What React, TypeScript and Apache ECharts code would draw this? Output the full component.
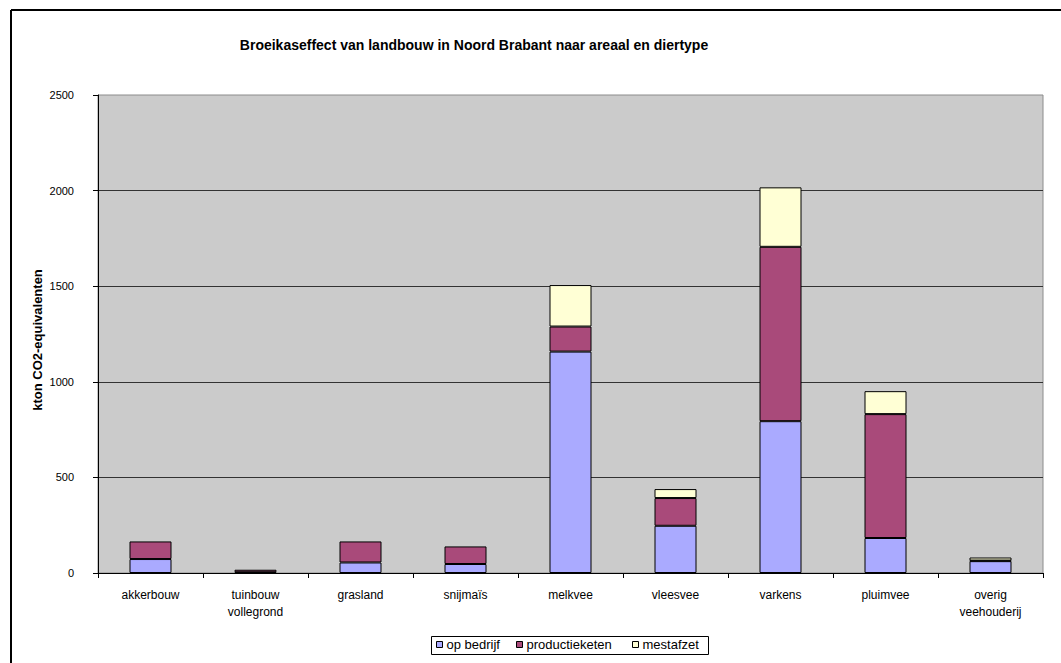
import React, { useEffect, useRef } from "react";
import * as echarts from "echarts";

const categories = [
  "akkerbouw",
  "tuinbouw\nvollegrond",
  "grasland",
  "snijmaïs",
  "melkvee",
  "vleesvee",
  "varkens",
  "pluimvee",
  "overig\nveehouderij",
];
const opBedrijf = [73, 4, 55, 47, 1158, 247, 794, 183, 62];
const productieketen = [92, 13, 110, 92, 131, 145, 912, 648, 3];
const mestafzet = [0, 0, 0, 0, 217, 47, 311, 120, 16];
const seriesNames = ["op bedrijf", "productieketen", "mestafzet"];
const seriesColors = ["#AAAAFF", "#A94A7A", "#FFFFD5"];
const yTicks = { min: 0, max: 2500, interval: 500 };

const FONT = "'Liberation Sans', Arial, sans-serif";

export default function App() {
  const ref = useRef<HTMLDivElement>(null);
  useEffect(() => {
    if (!ref.current) return;
    const chart = echarts.init(ref.current, undefined, { renderer: "svg" });
    const dataSets = [opBedrijf, productieketen, mestafzet];
    const legendX = [436, 516, 632];
    chart.setOption({
      animation: false,
      backgroundColor: "#ffffff",
      textStyle: { fontFamily: FONT },
      grid: {
        left: 98,
        right: 18,
        top: 95,
        bottom: 90,
        show: true,
        backgroundColor: "#CBCBCB",
        borderColor: "#8C8C8C",
        borderWidth: 1,
      },
      legend: seriesNames.map((n, i) => ({
        data: [n],
        left: legendX[i],
        top: 638,
        icon: "rect",
        itemWidth: 6,
        itemHeight: 6,
        itemGap: 0,
        padding: 0,
        textStyle: { fontSize: 13, color: "#000", fontFamily: FONT, padding: [0, 0, 0, -1] },
        itemStyle: { borderColor: "#000", borderWidth: 1 },
      })),
      xAxis: {
        type: "category",
        data: categories,
        axisLine: { lineStyle: { color: "#000", width: 1 } },
        axisTick: { show: true, length: 5, lineStyle: { color: "#000" } },
        axisLabel: {
          color: "#000",
          fontSize: 12,
          fontFamily: FONT,
          margin: 13,
          lineHeight: 17,
          interval: 0,
        },
      },
      yAxis: {
        type: "value",
        min: yTicks.min,
        max: yTicks.max,
        interval: yTicks.interval,
        axisLine: { show: true, lineStyle: { color: "#000", width: 1 } },
        axisTick: { show: true, length: 5, lineStyle: { color: "#000" } },
        axisLabel: {
          color: "#000",
          fontSize: 11,
          fontFamily: FONT,
          margin: 24,
          formatter: (v: number) => String(v),
        },
        splitLine: { show: true, showMaxLine: false, lineStyle: { color: "#333", width: 1 } },
      },
      series: seriesNames.map((n, i) => ({
        name: n,
        type: "bar",
        stack: "total",
        data: dataSets[i].map((v) => (v === 0 ? "-" : v)),
        barWidth: 42,
        itemStyle: { color: seriesColors[i], borderColor: "#000", borderWidth: 1 },
      })),
      graphic: [
        {
          type: "line",
          shape: { x1: 11, y1: 10, x2: 1061, y2: 10 },
          style: { stroke: "#000", lineWidth: 2 },
        },
        {
          type: "line",
          shape: { x1: 11, y1: 10, x2: 11, y2: 663 },
          style: { stroke: "#000", lineWidth: 2 },
        },
        {
          type: "text",
          x: 474,
          y: 45,
          style: {
            text: "Broeikaseffect van landbouw in Noord Brabant naar areaal en diertype",
            fill: "#000",
            font: `bold 14px ${FONT}`,
            textAlign: "center",
            textVerticalAlign: "middle",
          },
        },
        {
          type: "text",
          x: 37,
          y: 340,
          rotation: Math.PI / 2,
          style: {
            text: "kton CO2-equivalenten",
            fill: "#000",
            font: `bold 13px ${FONT}`,
            textAlign: "center",
            textVerticalAlign: "middle",
          },
        },
        {
          type: "rect",
          shape: { x: 431.5, y: 636.5, width: 277, height: 18 },
          style: { fill: "none", stroke: "#000", lineWidth: 1 },
          z: 10,
        },
      ],
    });
    return () => chart.dispose();
  }, []);
  return (
    <div
      ref={ref}
      style={{ position: "fixed", left: 0, top: 0, width: 1061, height: 663 }}
    />
  );
}
